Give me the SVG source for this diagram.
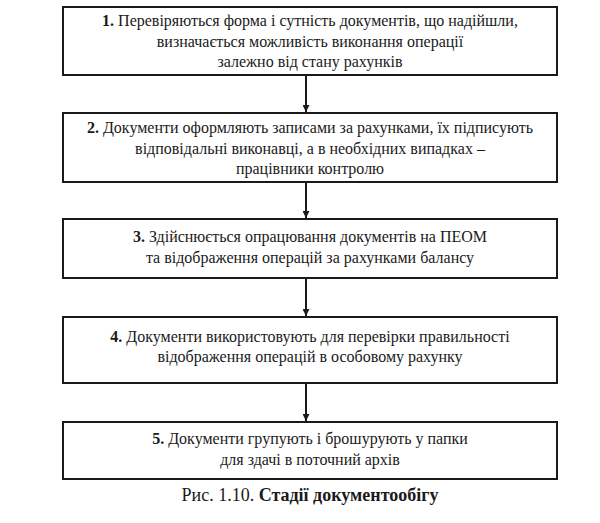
<svg xmlns="http://www.w3.org/2000/svg" width="600" height="523" viewBox="0 0 600 523">
<style>
.box{fill:#fff;stroke:#1a1a1a;stroke-width:2}
.t{font-family:"Times New Roman","Liberation Serif","Noto Serif","DejaVu Serif",Georgia,serif;font-size:16px;fill:#1a1a1a;text-anchor:middle}
.b{font-weight:bold}
.con{stroke:#1a1a1a;stroke-width:2;fill:none}
.cap{font-family:"Times New Roman","Liberation Serif","Noto Serif","DejaVu Serif",Georgia,serif;font-size:18px;fill:#1a1a1a;text-anchor:middle}
</style>
<defs>
<marker id="ah" viewBox="0 0 8 8" refX="8" refY="4" markerWidth="3.5" markerHeight="3.5" markerUnits="strokeWidth" orient="auto">
<path d="M0,0 L8,4 L0,8 z" fill="#1a1a1a"/>
</marker>
</defs>
<rect width="600" height="523" fill="#fff"/>
<g id="connectors">
<line class="con" x1="306" y1="75" x2="306" y2="112" marker-end="url(#ah)"/>
<line class="con" x1="306" y1="182" x2="306" y2="218" marker-end="url(#ah)"/>
<line class="con" x1="306" y1="278" x2="306" y2="316" marker-end="url(#ah)"/>
<line class="con" x1="306" y1="383" x2="306" y2="421" marker-end="url(#ah)"/>
</g>
<g id="node1">
<rect class="box" x="63" y="7" width="494" height="68"/>
<text class="t" x="310" y="26"><tspan class="b">1.</tspan> Перевіряються форма і сутність документів, що надійшли,</text>
<text class="t" x="310" y="47">визначається можливість виконання операції</text>
<text class="t" x="310" y="67">залежно від стану рахунків</text>
</g>
<g id="node2">
<rect class="box" x="63" y="113" width="494" height="69"/>
<text class="t" x="310" y="133"><tspan class="b">2.</tspan> Документи оформляють записами за рахунками, їх підписують</text>
<text class="t" x="310" y="154">відповідальні виконавці, а в необхідних випадках –</text>
<text class="t" x="310" y="174">працівники контролю</text>
</g>
<g id="node3">
<rect class="box" x="63" y="219" width="494" height="59"/>
<text class="t" x="310" y="242"><tspan class="b">3.</tspan> Здійснюється опрацювання документів на ПЕОМ</text>
<text class="t" x="310" y="263">та відображення операцій за рахунками балансу</text>
</g>
<g id="node4">
<rect class="box" x="63" y="317" width="494" height="66"/>
<text class="t" x="310" y="342"><tspan class="b">4.</tspan> Документи використовують для перевірки правильності</text>
<text class="t" x="310" y="362">відображення операцій в особовому рахунку</text>
</g>
<g id="node5">
<rect class="box" x="63" y="422" width="494" height="57"/>
<text class="t" x="310" y="444"><tspan class="b">5.</tspan> Документи групують і брошурують у папки</text>
<text class="t" x="310" y="465">для здачі в поточний архів</text>
</g>
<g id="caption">
<text class="cap" x="310" y="501">Рис. 1.10. <tspan font-weight="bold">Стадії документообігу</tspan></text>
</g>
</svg>
